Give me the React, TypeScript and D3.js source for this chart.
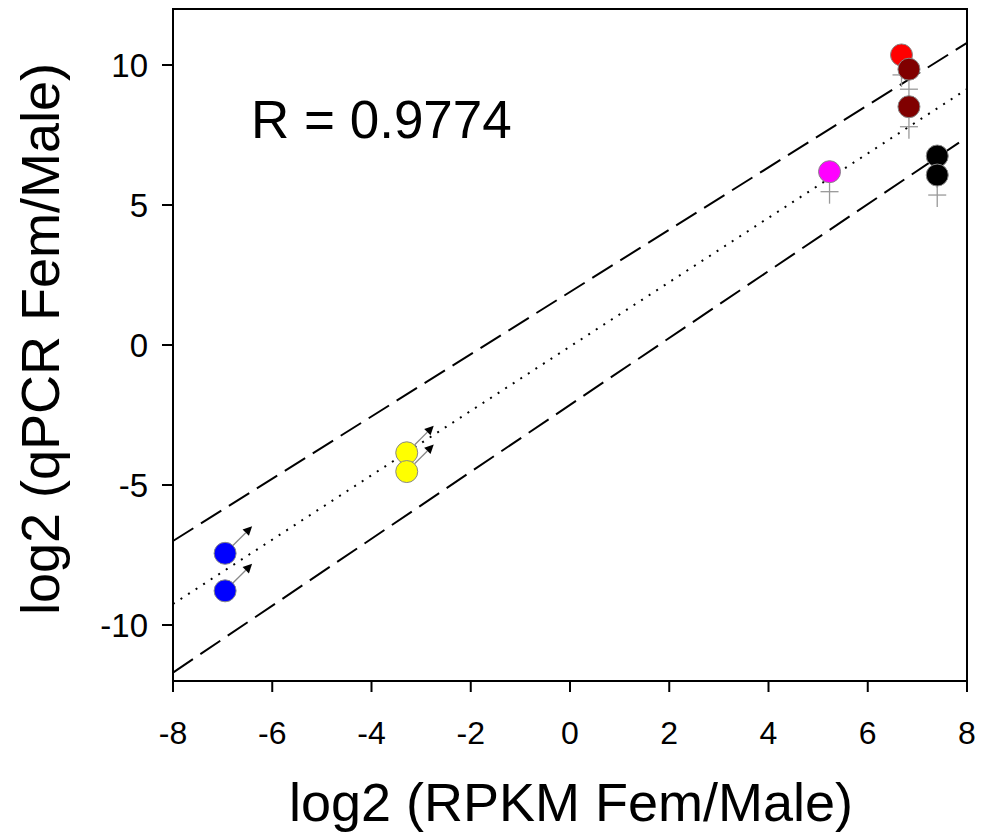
import React from 'react';
import * as d3 from 'd3';

// log2 fold change values
const rpkm = [6.68, 6.83, 6.83, 7.4, 7.4, 5.23, -3.29, -3.29, -6.95, -6.95];
const qpcr = [10.36, 9.85, 8.51, 6.75, 6.07, 6.19, -3.85, -4.52, -7.44, -8.78];
const colors = ['#ff0000', '#800000', '#800000', '#000000', '#000000', '#ff00ff', '#ffff00', '#ffff00', '#0000ff', '#0000ff'];
const sex = ['F', 'F', 'F', 'F', 'F', 'F', 'M', 'M', 'M', 'M'];

const fitLine: [number, number][] = [[-8, -9.25], [8, 9.14]];
const upperBand: [number, number][] = [[-8, -7.0], [8, 10.79]];
const lowerBand: [number, number][] = [[-8, -11.7], [8, 7.42]];

const xTicks = [-8, -6, -4, -2, 0, 2, 4, 6, 8];
const yTicks = [-10, -5, 0, 5, 10];
const rLabel = 'R = 0.9774';

const W = 992;
const H = 832;
const left = 173, right = 967, top = 9, bottom = 681;
const font = '"Liberation Sans", Arial, sans-serif';

export default function App() {
  const x = d3.scaleLinear().domain([-8, 8]).range([left, right]);
  const y = d3.scaleLinear().domain([-12, 12]).range([bottom, top]);
  const line = d3.line<[number, number]>().x((d) => x(d[0])).y((d) => y(d[1]));
  const r = 11;

  return (
    <svg width={W} height={H} style={{ position: 'absolute', left: 0, top: 0, background: '#fff' }}>
      {/* regression + bands */}
      <path d={line(upperBand) || ''} fill="none" stroke="#000" strokeWidth={2} strokeDasharray="24 9" />
      <path d={line(lowerBand) || ''} fill="none" stroke="#000" strokeWidth={2} strokeDasharray="24 9" />
      <path d={line(fitLine) || ''} fill="none" stroke="#000" strokeWidth={2} strokeDasharray="2 7" />

      {/* points with sex symbols */}
      {rpkm.map((v, i) => {
        const cx = x(v);
        const cy = y(qpcr[i]);
        if (sex[i] === 'F') {
          return (
            <g key={i}>
              <line x1={cx} y1={cy + r} x2={cx} y2={cy + r + 21} stroke="#999" strokeWidth={1.3} />
              <line x1={cx - 9} y1={cy + r + 9} x2={cx + 9} y2={cy + r + 9} stroke="#999" strokeWidth={1.3} />
              <circle cx={cx} cy={cy} r={r} fill={colors[i]} stroke="#888" strokeWidth={1} />
            </g>
          );
        }
        const a = Math.SQRT1_2;
        const tx = cx + 27;
        const ty = cy - 27;
        const hl = 9;
        const hw = 4.5;
        // arrow head along 45 deg
        const bx = tx - hl * a;
        const by = ty + hl * a;
        const head = `${tx},${ty} ${bx - hw * a},${by - hw * a} ${bx + hw * a},${by + hw * a}`;
        return (
          <g key={i}>
            <line x1={cx + r * a} y1={cy - r * a} x2={bx} y2={by} stroke="#888" strokeWidth={1.3} />
            <polygon points={head} fill="#000" />
            <circle cx={cx} cy={cy} r={r} fill={colors[i]} stroke="#888" strokeWidth={1} />
          </g>
        );
      })}

      {/* frame */}
      <rect x={left} y={top} width={right - left} height={bottom - top} fill="none" stroke="#000" strokeWidth={2} />

      {/* x axis */}
      {xTicks.map((t) => (
        <g key={'x' + t}>
          <line x1={x(t)} x2={x(t)} y1={bottom} y2={bottom + 11} stroke="#000" strokeWidth={2} />
          <text x={x(t)} y={744} textAnchor="middle" fontFamily={font} fontSize={32}>
            {t}
          </text>
        </g>
      ))}

      {/* y axis */}
      {yTicks.map((t) => (
        <g key={'y' + t}>
          <line x1={left - 11} x2={left} y1={y(t)} y2={y(t)} stroke="#000" strokeWidth={2} />
          <text x={148} y={y(t) + 12} textAnchor="end" fontFamily={font} fontSize={33}>
            {t}
          </text>
        </g>
      ))}

      <text x={571} y={821} textAnchor="middle" fontFamily={font} fontSize={54}>
        log2 (RPKM Fem/Male)
      </text>
      <text
        transform={`translate(59, ${(top + bottom) / 2 - 6}) rotate(-90)`}
        textAnchor="middle"
        fontFamily={font}
        fontSize={54}
      >
        log2 (qPCR Fem/Male)
      </text>

      <text x={251} y={138} fontFamily={font} fontSize={53}>
        {rLabel}
      </text>
    </svg>
  );
}
